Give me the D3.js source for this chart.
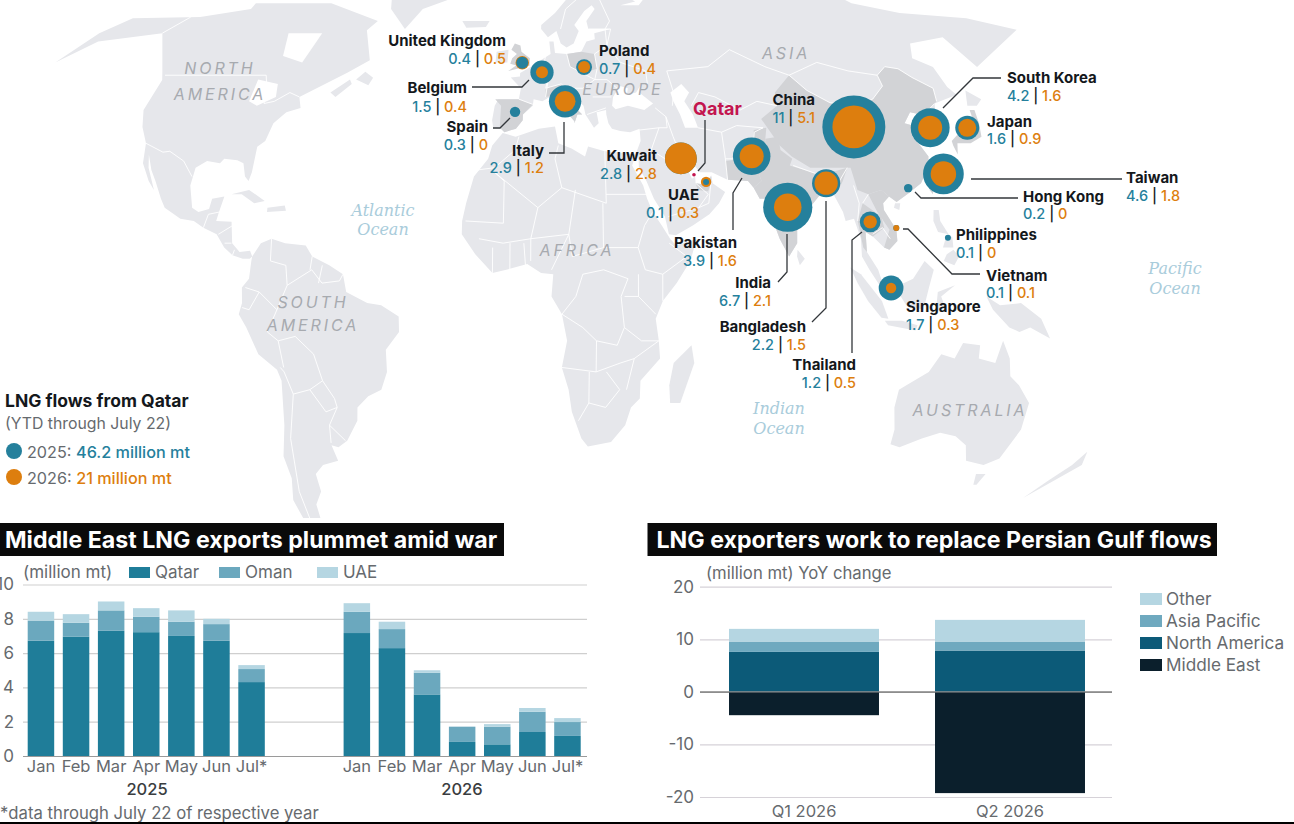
<!DOCTYPE html>
<html>
<head>
<meta charset="utf-8">
<script src="https://cdn.jsdelivr.net/npm/d3@7"></script>
<style>
  html, body { margin: 0; padding: 0; background: #fff; }
  svg { display: block; font-family: Inter, "Open Sans", sans-serif; }
</style>
</head>
<body>
<div id="chart"></div>
<script>
// ---- bubble map data (million mt, YTD through July 22)
const countries = ["United Kingdom", "Belgium", "Poland", "Spain", "Italy", "Kuwait", "UAE", "Pakistan", "India", "Bangladesh", "China", "Thailand", "Singapore", "Vietnam", "Philippines", "Hong Kong", "Taiwan", "South Korea", "Japan"];
const flows2025 = [0.4, 1.5, 0.7, 0.3, 2.9, 2.8, 0.1, 3.9, 6.7, 2.2, 11, 1.2, 1.7, 0.1, 0.1, 0.2, 4.6, 4.2, 1.6];
const flows2026 = [0.5, 0.4, 0.4, 0, 1.2, 2.8, 0.3, 1.6, 2.1, 1.5, 5.1, 0.5, 0.3, 0.1, 0, 0, 1.8, 1.6, 0.9];
const countryLon = [-1, 5.7, 19.7, -2.5, 13.2, 47.7, 54.6, 69, 78, 90, 102, 101.6, 106.6, 109, 123.7, 114, 125.2, 125.4, 136.8];
const countryLat = [51.9, 49.7, 50.9, 40.6, 43, 30.1, 24.8, 30.6, 19.1, 24.5, 37.2, 15.8, 0.9, 14.4, 12.2, 23.4, 26.6, 37, 37];

// ---- bar chart data
const months = ["Jan", "Feb", "Mar", "Apr", "May", "Jun", "Jul*"];
const qatar2025 = [6.72, 6.95, 7.3, 7.22, 7.0, 6.72, 4.31];
const oman2025 = [1.18, 0.82, 1.19, 0.9, 0.83, 0.97, 0.76];
const uae2025 = [0.51, 0.5, 0.52, 0.5, 0.66, 0.31, 0.23];
const qatar2026 = [7.17, 6.29, 3.59, 0.82, 0.68, 1.4, 1.17];
const oman2026 = [1.24, 1.11, 1.26, 0.89, 1.03, 1.18, 0.81];
const uae2026 = [0.5, 0.43, 0.15, 0, 0.15, 0.22, 0.23];

const quarters = ["Q1 2026", "Q2 2026"];
const middleEast = [-4.44, -19.26];
const northAmerica = [7.6, 7.86];
const asiaPacific = [1.97, 1.71];
const otherRegion = [2.41, 4.12];

// ---- base map outlines, lon/lat (nudged by eye to sit on the source map)
const land = [
  // north america
  [[-105,65],[-105,66.5],[-76,66.5],[-55,62],[-57.5,59.7],[-52.5,52.5],[-58.6,49.6],[-71.5,44],[-70,41.5],[-74,40.5],[-77,38],[-78,34],[-80,32.7],[-80,27],[-80.5,25],[-81.8,26],[-83,29],[-85,29.7],[-89,30],[-90,29],[-94,29.5],[-97,28],[-97.5,24],[-96,19],[-94,18],[-91,18.7],[-90.5,21],[-87,21.5],[-88,18],[-88.5,16],[-84,15.8],[-83.3,11],[-81,9],[-78,9.3],[-77.3,8],[-78,7.5],[-80,7.5],[-83,8.3],[-85.5,10],[-88,13],[-92,14.5],[-95,16],[-99,16.5],[-104,19],[-105.5,21],[-108,25],[-110,27.5],[-112,31],[-111,28],[-108,23],[-110,25],[-113,29],[-114,33.5],[-117,37.2],[-119,41],[-118.3,47.9],[-120,50],[-130,59],[-150,57],[-158,52],[-152.5,59],[-146,62.7],[-121.5,63]],
  [[-62,45],[-57,48],[-56,47],[-60,44]],
  [[-55,48],[-52.7,49.8],[-49.6,48.4],[-50.5,46.7]],
  [[-44,60],[-40,65],[-22,70],[-20,78],[-40,83],[-60,82],[-70,77],[-55,70],[-52,65]],
  [[-85,22],[-80,23],[-75,20.5],[-78,20],[-82,22]],
  [[-74,19],[-69,19.5],[-68.5,18.3],[-74,18]],
  // south america
  [[-77.3,8],[-75,11],[-72,12],[-68,11],[-62,10.5],[-60,8],[-55,6],[-51,4],[-50,0],[-44,-2.5],[-40,-3],[-35,-5.5],[-35,-9],[-39,-13],[-39,-18],[-41,-22],[-45,-23.5],[-48.5,-26],[-49,-29],[-53,-33.5],[-56,-35],[-58,-34.5],[-57,-38],[-62,-39],[-65,-41],[-65,-45],[-68,-48],[-68.5,-52],[-65,-55],[-70,-55],[-74,-52],[-75,-47],[-73,-42],[-73.5,-37],[-71,-30],[-70,-20],[-71,-17.5],[-76,-14],[-79,-8],[-81,-5],[-80,-2.5],[-80,1],[-78,3],[-77.5,7]],
  // africa
  [[-6,35.8],[-2,35],[5,36.8],[10,37.3],[11,33.5],[15,32.3],[19,30.5],[20,32.8],[25,31.7],[32,31.2],[34.3,31],[33,28.5],[36,24],[37,21],[38.5,18],[41,15],[43.3,12],[45,10.5],[51,12],[49,7],[45,2],[41,-2],[39,-6],[40,-11],[40.5,-15],[35,-20],[35,-24],[32.5,-26],[31,-30],[27,-33.8],[20,-34.8],[18,-33],[15,-27],[14,-22],[12,-17],[13.5,-11],[12,-5],[9,-1],[9.5,4],[6,4.3],[2,6.3],[-4,5],[-8,4.3],[-13,8.5],[-17,13],[-17,16],[-16,20],[-14,26],[-10,30],[-9,33]],
  [[49.5,-12],[50.5,-16],[47,-25],[44,-25],[43.5,-21],[44.5,-16]],
  // eurasia
  [[-9,37],[-6.5,37],[-5.5,36],[-2,36.8],[0,38.7],[0,40],[3,42],[3.2,43.5],[6,43],[9,44.3],[10.5,43],[12.5,41.5],[16,38.5],[16,38],[17,40],[18.5,40],[16,41.8],[13.5,43.5],[12.5,45],[14,45.3],[19,42],[19.5,40],[22,37],[23.5,38],[23,40.5],[26,41],[26,40],[26.5,38],[27.5,36.8],[30,36.3],[33,36],[36,36.8],[36,34],[34.5,31.5],[35,29.5],[35,28],[37,25],[39,21],[42,17],[43,13],[45,12.8],[50,15],[55,17.5],[58,20],[60,22.5],[56.5,24.5],[56.3,26.3],[54,24.2],[51.5,24.5],[51.5,26],[50.5,25.5],[50,26.5],[48,29.5],[50,30],[53,27],[56.5,27],[61,25.3],[67,25],[68.5,23.5],[70,21],[72.5,21],[73,17],[75,12],[77.5,8],[80,11],[80.3,15],[85,19.5],[87,21.5],[90,22],[91.5,22.5],[94,18],[94.5,16],[97,16.5],[98.5,12],[98.5,8],[100.5,5],[103.5,1.3],[104,2.5],[103,5],[100,9],[100,13.5],[102,12.5],[105,10],[106.5,9.5],[109,11.5],[109,14],[106,18.5],[106,20],[108,21.5],[110,20.3],[114,22.3],[118,24.5],[121,28],[122,30.5],[120.5,33],[119,35],[122.5,37],[118,38],[121,40.5],[124,40],[125,38],[126.5,35],[127,34.5],[129.3,35.3],[128,38.5],[130,42.5],[138.4,44.5],[136.8,46.3],[136,50.9],[131,53],[133.8,56.5],[147,58],[150.7,50.9],[175.8,59.8],[162,62.7],[139,64],[124,66.5],[110,76],[100,77],[80,73],[70,73],[68,69],[60,69],[45,68],[42,66],[35,66],[41,67],[33,70],[25,71],[15,68],[10,64],[5,61],[5,60],[7.5,58],[10.5,59.5],[12,56.5],[14,55.5],[16.5,56.5],[18.5,59.5],[17,61],[21,64.5],[24,66],[25,65],[21.5,62],[22,60],[30,60],[24,59],[24,57.5],[21,57],[19,54.5],[14,54],[10,54.2],[9.5,57],[8,57],[8.5,54],[4,52],[2,51],[-1.5,49.5],[-1.5,48.7],[-4.5,48.5],[-1,46],[-1.5,43.5],[-8,43.5],[-9,42],[-9.5,38.7]],
  [[-24,62],[-14,62],[-15,60.5],[-22,60.3]],
  [[-10,52],[-6,52],[-6,55],[-10,54.5]],
  [[80,9.5],[82,7.5],[80.5,6],[79.8,8]],
  [[140,42],[143,42],[145.5,43.5],[142,45.5]],
  [[109,19],[110.5,18.5],[111,20],[109.5,20]],
  [[120.5,18.5],[122,18.5],[122,16],[124,13],[121,13.5],[120,16]],
  [[122,7],[125,6],[126.5,8],[125,9.5],[123,8.5]],
  [[122,10],[125,10],[125,12.5],[123,12]],
  [[95,5.5],[98,4],[104,-2],[106,-6],[104,-5.8],[100,-2],[97,2]],
  [[105,-6.5],[110,-6.5],[114.5,-7.5],[114,-8.7],[106,-7.5]],
  [[109,1.5],[113,3],[116.5,7],[119,5],[117.5,1],[116,-4],[111,-3],[109,-0.5]],
  [[119.5,-5.5],[120,0],[125,1.5],[121,-1],[123,-5],[121,-3]],
  [[134,-1],[138,-3],[144,-2.5],[150,-6],[153,-10.5],[147,-8],[144,-9],[141,-8],[136,-4]],
  // australia, nz
  [[111,-22],[110.5,-26],[112,-31],[112,-34.3],[115,-35],[121,-33],[126,-31.7],[131,-32.5],[135,-34.5],[137,-38],[143,-39],[147,-37.5],[150,-31],[150,-25],[146,-21],[143,-19],[142,-15],[139.5,-11],[138,-16],[133,-15],[133,-12],[128,-11.5],[126,-15],[122,-14],[119,-18],[113,-21]],
  [[142,-41],[145,-41],[144,-43.5],[143,-43.5]],
  [[161.5,-46.5],[167,-43],[173.5,-39],[173,-36],[170.5,-39],[166,-42.5]]
];
const water = [
  [[28,42],[28.5,44],[31,46.5],[33.5,46],[33,44.5],[36,45],[38,47],[37,45],[41,42.5],[38,41],[33,42],[29,41.2]],
  [[47,45],[51,47],[53,45],[51,43],[53,40],[54,37],[50,37],[49,40],[47.5,43]],
  [[-87,48],[-80,47],[-79,44],[-84,42],[-87,43]],
  [[-85,59],[-73,59],[-75,52],[-82.5,53.5]]
];
const importers = [
  [[74,39],[80,42],[80.5,45],[87,49],[91,45.5],[97,42.7],[105,41.7],[111,43.5],[116,46.5],[116,49],[120,51],[124,50.5],[127,48.5],[132,46],[131,43],[128,41.5],[124,40],[121,40.5],[118,38],[122.5,37],[119,35],[120.5,33],[122,30.5],[121,28],[118,24.5],[114,22.3],[110,20.3],[108,21.5],[106,23],[102,22],[99,23],[98,28],[92,28],[86,28],[81,30.5],[78,33],[76,36]],
  [[74,34.5],[78,35],[78,32],[81,30],[80,28.5],[88,26.5],[89,27],[92,27],[97,28],[95,25],[93,22.5],[92,24.5],[89,26],[88,22],[85,19.5],[80.3,15],[80,11],[77.5,8],[75,12],[73,17],[72.5,21],[70,21],[68.5,23.5],[71,25],[70,28],[74,31]],
  [[61,25.3],[67,25],[68.5,23.5],[71,25],[70,28],[74,31],[74,34.5],[75,37],[71,36.5],[70,33],[66,30],[61,29.5]],
  [[88,22],[89,26],[92,24.5],[92,22],[90,22]],
  [[98,16],[100,20],[105,17],[105.5,14.5],[102,12.5],[100,13.5],[100,9],[99,10]],
  [[102,22],[106,23],[108,21.5],[106,20],[106,18.5],[109,14],[109,11.5],[106.5,9.5],[105,10],[107,14],[104,18]],
  [[126,38],[128.5,38.5],[129.3,35.3],[127,34.5],[126.5,35]],
  [[51.5,24.5],[54,24.2],[56.3,26],[56,24.3],[55,22.7],[52,23]],
  [[-9,43.5],[-1.5,43.5],[3,42.3],[0,40],[0,38.7],[-2,36.8],[-5.5,36],[-7,37],[-7,42]],
  [[14,54],[19,54.5],[23.5,54],[24,50.5],[19,49.5],[15,51]],
  [[7,44],[7,46],[12,47],[13.5,46],[12.5,45],[13.5,43.5],[16,41.8],[18.5,40],[17,40],[16,38],[16,38.5],[12.5,41.5],[10.5,43],[9,44.3]],
  [[-5.5,50],[1.5,51.2],[1.5,53],[-1.5,54.5],[-2,56],[-4,56.5],[-5,55],[-3,54],[-4.5,53],[-5,51.7],[-3,51.3]],
  [[130.5,33],[131,31],[132,33.5],[136,33.5],[140,35],[141,38],[141.5,41],[140,41],[139.5,38],[136.5,37],[133,35.5],[130.5,34]],
  [[120.2,23],[121,22],[122,25],[121,25.2]]
];
const borders = [
  [[-118.3,49],[-85,49],[-83,46],[-82,42.5],[-79,43],[-75,45],[-71.5,44]],[[-130,59],[-125,63]],[[-114,33.5],[-108,31.5],[-106,31.7],[-101,29.5],[-97.5,26]],
  [[-92,14.5],[-91,17.5],[-88,18]],[[-83.5,15],[-87.5,13]],[[-85.5,11],[-83.5,11]],[[-83,8.3],[-82.5,9.5]],
  [[-72,12],[-72,7],[-67.5,6],[-67,1.5]],[[-60,8],[-60.5,5]],[[-57,6],[-58,2]],[[-67,1.5],[-60,5],[-57,2],[-52,2.5],[-51,4]],[[-67,1.5],[-70,-4],[-73,-9],[-70,-11],[-69,-17]],[[-79,1],[-75,0],[-78,-4],[-80,-3.5]],[[-75,0],[-70,-4]],[[-70,-11],[-65,-10],[-60,-14],[-58,-20],[-62,-22],[-67,-23],[-69,-18],[-70,-17]],[[-67,-23],[-70,-33],[-72,-45],[-72,-52]],[[-58,-20],[-55,-24],[-54.5,-26],[-58,-27],[-62,-22]],[[-57.5,-30],[-53.5,-33.5]],[[-54.5,-26],[-57.5,-30],[-58,-34]],
  [[-1,35],[-2,32],[-8,28],[-13,27.5]],[[-8,27],[5,19],[12,23.5]],[[-16,16],[-5,15.5],[-5,25],[-8,27]],[[11,33],[10,30],[12,23.5],[25,20],[25,31.7]],[[25,22],[37,22]],[[16,23],[14,13],[15,8]],[[24,20],[24,10],[34,10],[36,15],[38.5,18]],[[-12,12],[-5,11],[3,12],[5,19]],[[3,7],[3,12],[14,13],[9,5]],[[34,10],[36,5],[41,4],[48,8],[43,11]],[[34,4],[34,-1],[39,-5]],[[41,4],[41,-2]],[[12,-5],[18,-8],[22,-11],[28,-12],[30,-8],[29,-1],[31,3],[24,5],[18,4],[16,-1],[12,-5]],[[15,8],[24,10]],[[12,-17],[22,-18],[22,-11]],[[20,-18],[20,-25],[25,-26],[29,-22],[25,-18]],[[17,-29],[20,-25]],[[31,-22],[33,-15],[40,-11]],[[30,-1],[34,-1]],[[30,-8],[35,-11],[40,-11]],[[22,-18],[29,-16],[33,-15]],[[-8,10],[-8,4.3]],[[-3,11],[-3,5]],[[1,11],[1.5,6]],
  [[28,60],[28,56],[32,52],[40,50],[40,47]],[[47,42],[48,45],[47,50],[61,51],[70,55],[80,51],[87,49]],[[87,49],[98,52],[107,50],[116,49],[120,51],[124,50.5],[127,48.5],[132,46],[131,43]],[[53,42],[56,45],[61,44],[68,41],[74,43],[80,42]],[[54,37],[61,36],[61,30],[61,25]],[[61,36],[66,37.5],[74,37],[71,36],[70,33],[66,30],[61,30]],[[44.5,39.5],[46,35],[48,30]],[[36,36.5],[42,37],[44.5,37],[44.5,39.5]],[[41.5,41.5],[44.5,39.5]],[[35,29.5],[39,32],[45,29],[48,29]],[[43,17],[52,19],[55,22],[51.5,24.5]],[[52,19],[55,20],[56,24.5]],[[39,32],[42,37]],[[87,49],[91,45.5],[97,42.7],[105,41.7],[111,43.5],[116,46.5],[116,49]],[[92,22],[94,25],[97,28]],[[98,24],[99,20],[98,16]],[[100,20],[102,22]],[[102,13],[105,14.5],[107,12]],[[124,40],[128,41.5],[130,42.5]],[[81,28.5],[88,26.5]],
  [[-1.5,43.5],[3,42.3]],[[2.5,51],[8,49],[7,44]],[[6,51],[7,54]],[[8,49],[7,46],[12,47],[13.5,46]],[[14,54],[15,51],[19,49.5],[23,48],[27,48],[30,46]],[[23.5,54],[24,50.5],[23,48]],[[22,60],[30,60],[28,56],[23.5,54]],[[12,60],[14,65],[21,69]],[[26,70],[30,62],[28,60]],[[20,40],[26,41.5]],[[22,44],[28,44]],[[14,46],[19,46],[23,48]]
];

const width = 1294, height = 824;
const teal = "#25809c", orange = "#dd7e0e";
const ink = "#14181c", grey = "#666a6e";

const svg = d3.select("#chart").append("svg").attr("width", width).attr("height", height);

// ---- robinson style projection, stretched to fit the picture
const robLat = [0,5,10,15,20,25,30,35,40,45,50,55,60,65,70,75,80,85,90];
const plen = d3.scaleLinear().domain(robLat).range([1,.9986,.9954,.99,.9822,.973,.96,.9427,.9216,.8962,.8679,.835,.7986,.7597,.7186,.6732,.6213,.5722,.5322]);
const pdfe = d3.scaleLinear().domain(robLat).range([0,.062,.124,.186,.248,.31,.372,.434,.4958,.5571,.6176,.6769,.7346,.7903,.8435,.8936,.9394,.9761,1]);
const mapX = d3.scaleLinear().domain([0, 100]).range([555, 903]);
const mapY = d3.scaleLinear().domain([0, 1]).range([292, -66]);
const project = ([lon, lat]) => [
  mapX((lon - 10) * plen(Math.abs(lat))),
  mapY(Math.sign(lat) * pdfe(Math.abs(lat)))
];
const outline = d3.line().x((d) => project(d)[0]).y((d) => project(d)[1]);
const ring = (d) => outline(d) + "Z";

svg.append("clipPath").attr("id", "mapClip").append("rect").attr("width", width).attr("height", 518);
const map = svg.append("g").attr("clip-path", "url(#mapClip)");

map.selectAll("path.land").data(land).enter().append("path").attr("class", "land")
  .attr("d", ring).attr("fill", "#e6e7eb");
map.selectAll("path.importer").data(importers).enter().append("path").attr("class", "importer")
  .attr("d", ring).attr("fill", "#d2d3d6");
map.selectAll("path.water").data(water).enter().append("path").attr("class", "water")
  .attr("d", ring).attr("fill", "#fff");
map.selectAll("path.border").data(borders).enter().append("path").attr("class", "border")
  .attr("d", outline).attr("fill", "none").attr("stroke", "#fff").attr("stroke-width", 0.9);

// region names
const regionNames = [
  ["NORTH", 220, 68], ["AMERICA", 220, 94], ["EUROPE", 623, 89], ["ASIA", 786, 53], ["AFRICA", 577, 250],
  ["SOUTH", 313, 302], ["AMERICA", 313, 325], ["AUSTRALIA", 970, 410]
];
const oceanNames = [
  ["Atlantic", 383, 210], ["Ocean", 383, 229], ["Pacific", 1175, 268], ["Ocean", 1175, 288], ["Indian", 779, 408], ["Ocean", 779, 428]
];
svg.append("g").selectAll("text").data(regionNames).enter().append("text")
  .attr("x", (d) => d[1]).attr("y", (d) => d[2]).attr("dy", "0.35em")
  .attr("text-anchor", "middle").attr("font-size", 16).attr("font-style", "italic")
  .attr("letter-spacing", 2.9).attr("fill", "#a7aaaf").text((d) => d[0]);
svg.append("g").selectAll("text").data(oceanNames).enter().append("text")
  .attr("x", (d) => d[1]).attr("y", (d) => d[2]).attr("dy", "0.35em")
  .attr("text-anchor", "middle").attr("font-size", 16).attr("font-style", "italic")
  .attr("font-family", "'DejaVu Serif', serif").attr("fill", "#a9ccdb").text((d) => d[0]);

// leader lines, in page pixels
const leaders = [
  [[472,87],[522,87],[529,80]], [[493,128],[500,128],[510,118]], [[549,153],[564,153],[564,122]],
  [[705,120],[705,163],[698,171]], [[733,230],[733,193],[742,178]], [[778,282],[787,272],[787,234]],
  [[812,322],[826,308],[826,201]], [[852,353],[852,240],[862,232]], [[903,229],[908,229],[952,274],[980,274]],
  [[915,192],[921,198],[1018,198]], [[971,179],[1122,179]], [[943,108],[973,78],[1001,78]]
];
const leaderLine = d3.line();
svg.append("g").selectAll("path").data(leaders).enter().append("path")
  .attr("d", leaderLine).attr("fill", "none").attr("stroke", "#33373b").attr("stroke-width", 1.3);

// bubbles, the bigger year goes underneath
const radius = d3.scaleSqrt().domain([0, 11]).range([0, 31.5]);
const bubbles = svg.append("g");
countries.forEach((name, i) => {
  const [cx, cy] = project([countryLon[i], countryLat[i]]);
  const pair = [[flows2025[i], teal], [flows2026[i], orange]];
  if (flows2026[i] > flows2025[i]) pair.reverse();
  pair.filter((p) => p[0] > 0).forEach(([v, colour]) => {
    bubbles.append("circle").attr("cx", cx).attr("cy", cy).attr("r", radius(v)).attr("fill", colour);
  });
});
const [qx, qy] = project([51.2, 26.4]);
bubbles.append("circle").attr("cx", qx).attr("cy", qy).attr("r", 1.8).attr("fill", "#c3154f");

// country labels: name x, anchor, name y, value y
const labelPos = {
  "United Kingdom": [506, "end", 41, 59], "Belgium": [467, "end", 88, 107], "Poland": [599, "start", 51, 69],
  "Spain": [488, "end", 127, 145], "Italy": [544, "end", 151, 168], "Kuwait": [657, "end", 156, 174],
  "UAE": [699, "end", 195, 213], "Pakistan": [737, "end", 243, 261], "India": [771, "end", 283, 301],
  "Bangladesh": [806, "end", 327, 345], "China": [815, "end", 100, 118], "Thailand": [856, "end", 365, 383],
  "Singapore": [906, "start", 307, 325], "Vietnam": [986, "start", 276, 293], "Philippines": [956, "start", 235, 253],
  "Hong Kong": [1023, "start", 197, 214], "Taiwan": [1126, "start", 178, 196], "South Korea": [1007, "start", 78, 96],
  "Japan": [987, "start", 122, 139]
};
const labels = svg.append("g");
countries.forEach((name, i) => {
  const [x, anchor, yName, yVal] = labelPos[name];
  labels.append("text").attr("x", x).attr("y", yName).attr("dy", "0.35em").attr("text-anchor", anchor)
    .attr("font-size", 15).attr("font-weight", 700).attr("fill", ink).text(name);
  const t = labels.append("text").attr("x", x).attr("y", yVal).attr("dy", "0.35em").attr("text-anchor", anchor)
    .attr("font-size", 14.5).attr("font-weight", 500);
  t.append("tspan").attr("fill", teal).text(flows2025[i]);
  t.append("tspan").attr("fill", ink).text(" | ");
  t.append("tspan").attr("fill", orange).text(flows2026[i]);
});
svg.append("text").attr("x", 693).attr("y", 109).attr("dy", "0.35em").attr("font-size", 18)
  .attr("font-weight", 700).attr("fill", "#c3154f").text("Qatar");

// map key
svg.append("text").attr("x", 5).attr("y", 401).attr("dy", "0.35em").attr("font-size", 17.5).attr("font-weight", 700).attr("fill", ink).text("LNG flows from Qatar");
svg.append("text").attr("x", 5).attr("y", 423).attr("dy", "0.35em").attr("font-size", 15.8).attr("fill", grey).text("(YTD through July 22)");
const keyRows = [["2025: ", "46.2 million mt", teal, 452], ["2026: ", "21 million mt", orange, 478]];
keyRows.forEach(([year, total, colour, y]) => {
  svg.append("circle").attr("cx", 14).attr("cy", y - 1).attr("r", 8).attr("fill", colour);
  const t = svg.append("text").attr("x", 27).attr("y", y).attr("dy", "0.35em").attr("font-size", 16.2);
  t.append("tspan").attr("fill", grey).text(year);
  t.append("tspan").attr("fill", colour).attr("font-weight", 500).text(total);
});

// ---- left chart
const titleBar = (x0, x1, label, pad) => {
  svg.append("rect").attr("x", x0).attr("y", 523).attr("width", x1 - x0).attr("height", 33).attr("fill", "#0a0a0a");
  svg.append("text").attr("x", x0 + pad).attr("y", 540).attr("dy", "0.35em").attr("font-size", 23.2).attr("font-weight", 700)
    .attr("fill", "#fff").text(label);
};
titleBar(0, 504, "Middle East LNG exports plummet amid war", 5);

const slots = [...months.map((m) => "2025 " + m), "gap a", "gap b", ...months.map((m) => "2026 " + m)];
const monthlyRows = [
  ...months.map((m, i) => ({ slot: "2025 " + m, Qatar: qatar2025[i], Oman: oman2025[i], UAE: uae2025[i] })),
  ...months.map((m, i) => ({ slot: "2026 " + m, Qatar: qatar2026[i], Oman: oman2026[i], UAE: uae2026[i] }))
];
const exporterKeys = ["Qatar", "Oman", "UAE"];
const exporterColor = d3.scaleOrdinal().domain(exporterKeys).range(["#1f7d99", "#6ba8be", "#b5d6e2"]);

const xMonth = d3.scaleBand().domain(slots).range([23.4, 585]).paddingInner(0.245).paddingOuter(0.1225);
const yExports = d3.scaleLinear().domain([0, 10]).range([756, 584.5]);

const leftAxisY = svg.append("g").attr("transform", "translate(23,0)")
  .call(d3.axisLeft(yExports).tickValues([0, 2, 4, 6, 8, 10]).tickSize(-564).tickPadding(9));
leftAxisY.select(".domain").remove();
leftAxisY.selectAll("line").attr("stroke", (d) => (d === 0 ? "#9a9a9a" : "#cfcfcf")).attr("stroke-width", 1.2);
leftAxisY.selectAll("text").attr("font-size", 17).attr("font-family", "Inter").attr("fill", grey);

svg.append("g").selectAll("g").data(d3.stack().keys(exporterKeys)(monthlyRows)).enter().append("g")
  .attr("fill", (d) => exporterColor(d.key))
  .selectAll("rect").data((d) => d).enter().append("rect")
  .attr("x", (d) => xMonth(d.data.slot)).attr("width", xMonth.bandwidth())
  .attr("y", (d) => yExports(d[1])).attr("height", (d) => yExports(d[0]) - yExports(d[1]));

const leftAxisX = svg.append("g").attr("transform", "translate(0,756)")
  .call(d3.axisBottom(xMonth).tickValues(slots.filter((s) => !s.startsWith("gap"))).tickSize(0).tickPadding(4).tickFormat((d) => d.slice(5)));
leftAxisX.select(".domain").remove();
leftAxisX.selectAll("text").attr("font-size", 16.5).attr("font-family", "Inter").attr("fill", grey);

[["2025", 147], ["2026", 462]].forEach(([year, x]) => {
  svg.append("text").attr("x", x).attr("y", 789).attr("dy", "0.35em").attr("text-anchor", "middle")
    .attr("font-size", 16.5).attr("font-weight", 500).attr("fill", "#3a3d40").text(year);
});
svg.append("text").attr("x", 0).attr("y", 813).attr("dy", "0.35em").attr("font-size", 16.7).attr("fill", grey)
  .text("*data through July 22 of respective year");
svg.append("text").attr("x", 23).attr("y", 572).attr("dy", "0.35em").attr("font-size", 17).attr("fill", grey).text("(million mt)");
[["Qatar", 129], ["Oman", 219], ["UAE", 317]].forEach(([key, x]) => {
  svg.append("rect").attr("x", x).attr("y", 567).attr("width", 21).attr("height", 11).attr("fill", exporterColor(key));
  svg.append("text").attr("x", x + 26).attr("y", 572).attr("dy", "0.35em").attr("font-size", 17).attr("fill", grey).text(key);
});

// ---- right chart
titleBar(647.5, 1217, "LNG exporters work to replace Persian Gulf flows", 9);

const regionKeys = ["Middle East", "North America", "Asia Pacific", "Other"];
const regionColor = d3.scaleOrdinal().domain(regionKeys).range(["#0b1f2c", "#0c5a78", "#6fa9bf", "#b5d6e2"]);
const quarterRows = quarters.map((q, i) => ({
  quarter: q, "Middle East": middleEast[i], "North America": northAmerica[i], "Asia Pacific": asiaPacific[i], Other: otherRegion[i]
}));
const xQuarter = d3.scaleBand().domain(quarters).range([701, 1113]).paddingInner(0.272).paddingOuter(0.136);
const yChange = d3.scaleLinear().domain([-20, 20]).range([797, 586.7]);

const rightAxisY = svg.append("g").attr("transform", "translate(700,0)")
  .call(d3.axisLeft(yChange).tickValues([-20, -10, 0, 10, 20]).tickSize(-412).tickPadding(6));
rightAxisY.select(".domain").remove();
rightAxisY.selectAll("line").attr("stroke", (d) => (d === 0 ? "#8d8d8d" : "#d6d2d8")).attr("stroke-width", 1.2);
rightAxisY.selectAll("text").attr("font-size", 17).attr("font-family", "Inter").attr("fill", grey).text((d) => d);

const regionStack = d3.stack().keys(regionKeys).offset(d3.stackOffsetDiverging)(quarterRows);
svg.append("g").selectAll("g").data(regionStack).enter().append("g")
  .attr("fill", (d) => regionColor(d.key))
  .selectAll("rect").data((d) => d).enter().append("rect")
  .attr("x", (d) => xQuarter(d.data.quarter)).attr("width", xQuarter.bandwidth())
  .attr("y", (d) => yChange(d[1])).attr("height", (d) => yChange(d[0]) - yChange(d[1]));
svg.append("line").attr("x1", 700).attr("x2", 1112).attr("y1", yChange(0)).attr("y2", yChange(0)).attr("stroke", "#8d8d8d").attr("stroke-width", 1.2);

const rightAxisX = svg.append("g").attr("transform", "translate(0,797)")
  .call(d3.axisBottom(xQuarter).tickSize(0).tickPadding(8));
rightAxisX.select(".domain").remove();
rightAxisX.selectAll("text").attr("font-size", 16.5).attr("font-family", "Inter").attr("fill", grey);

svg.append("text").attr("x", 706).attr("y", 573).attr("dy", "0.35em").attr("font-size", 16.7).attr("fill", grey).text("(million mt) YoY change");
[...regionKeys].reverse().forEach((key, i) => {
  const y = 599 + i * 22;
  svg.append("rect").attr("x", 1140).attr("y", y - 6).attr("width", 22).attr("height", 12).attr("fill", regionColor(key));
  svg.append("text").attr("x", 1166).attr("y", y).attr("dy", "0.35em").attr("font-size", 17.2).attr("fill", grey).text(key);
});

// bottom rule
svg.append("rect").attr("x", 0).attr("y", 822).attr("width", width).attr("height", 2).attr("fill", "#000");
</script>
</body>
</html>
